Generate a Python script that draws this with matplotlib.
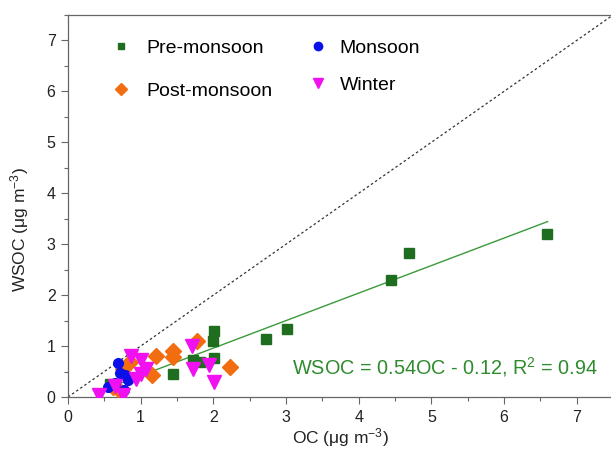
import matplotlib
matplotlib.use("Agg")
import matplotlib.pyplot as plt
from matplotlib.lines import Line2D
import numpy as np

plt.rcParams['font.family'] = ['Liberation Sans', 'DejaVu Sans']
plt.rcParams['mathtext.fontset'] = 'custom'
plt.rcParams['mathtext.rm'] = 'Liberation Sans'
plt.rcParams['mathtext.it'] = 'Liberation Sans:italic'

# Data
pre_oc = [6.59, 4.69, 4.44, 3.02, 2.72, 2.01, 1.99, 2.01, 1.72, 1.81, 1.44, 0.58]
pre_wsoc = [3.20, 2.82, 2.29, 1.33, 1.14, 1.30, 1.10, 0.77, 0.73, 0.69, 0.45, 0.25]

mon_oc = [0.69, 0.72, 0.78, 0.83, 0.55, 0.65, 0.77, 0.85]
mon_wsoc = [0.67, 0.47, 0.43, 0.33, 0.19, 0.27, 0.14, 0.40]

post_oc = [0.76, 0.85, 0.69, 1.15, 1.21, 1.44, 1.44, 1.78, 2.23, 0.62]
post_wsoc = [0.54, 0.68, 0.15, 0.43, 0.81, 0.90, 0.79, 1.10, 0.58, 0.20]

win_oc = [0.42, 0.76, 0.65, 0.87, 1.00, 1.07, 0.93, 1.00, 1.70, 1.72, 1.94, 2.01]
win_wsoc = [0.04, 0.03, 0.22, 0.80, 0.73, 0.55, 0.35, 0.45, 1.00, 0.55, 0.62, 0.30]

slope, intercept = 0.54, -0.12
fit_range = [0.55, 6.6]

fig = plt.figure(figsize=(6.11, 4.65), dpi=100)
ax = fig.add_axes([68/611, 68/465, 545/611, 382/465])

c_pre = '#1f6e1f'
c_mon = '#0a10e8'
c_post = '#f26c10'
c_win = '#f010f0'

# 1:1 line
ax.plot([0, 7.5], [0, 7.5], ls=(0, (2, 2)), color='#333333', lw=0.9, zorder=1)

# fit line
xf = np.array(fit_range)
ax.plot(xf, slope * xf + intercept, color='#3a9a3a', lw=1.0, zorder=2)

ax.plot(pre_oc, pre_wsoc, ls='none', marker='s', ms=7, color=c_pre, zorder=3)
ax.plot(post_oc, post_wsoc, ls='none', marker='D', ms=8.5, color=c_post, zorder=3)
ax.plot(mon_oc, mon_wsoc, ls='none', marker='o', ms=7, color=c_mon, zorder=3)
ax.plot(win_oc, win_wsoc, ls='none', marker='v', ms=9.5, color=c_win, zorder=4)

ax.set_xlim(0, 7.5)
ax.set_ylim(0, 7.5)
ax.set_xticks(range(0, 8))
ax.set_yticks(range(0, 8))
ax.set_xticks(np.arange(0.5, 7.6, 1.0), minor=True)
ax.set_yticks(np.arange(0.5, 7.6, 1.0), minor=True)
ax.tick_params(which='major', direction='out', length=5, width=0.8, color='#666666',
               labelsize=11.5, labelcolor='#222222', pad=4)
ax.tick_params(which='minor', direction='out', length=3, width=0.8, color='#666666')
for s in ax.spines.values():
    s.set_color('#666666')
    s.set_linewidth(0.9)

ax.set_xlabel(r'OC ($\mathrm{\mu}$g m$^{-3}$)', fontsize=12.5, color='#222222', labelpad=1)
ax.set_ylabel(r'WSOC ($\mathrm{\mu}$g m$^{-3}$)', fontsize=12.5, color='#222222')
ax.yaxis.set_label_coords(-0.068, 0.437)

ax.text(3.08, 0.58, r'WSOC = 0.54OC - 0.12, R$^2$ = 0.94', color='#2e8b2e',
        fontsize=14.3, ha='left', va='center')

# Legend: two columns built as separate legends
h_pre = Line2D([], [], ls='none', marker='s', ms=5, color=c_pre)
h_post = Line2D([], [], ls='none', marker='D', ms=6.5, color=c_post)
h_mon = Line2D([], [], ls='none', marker='o', ms=6, color=c_mon)
h_win = Line2D([], [], ls='none', marker='v', ms=7.5, color=c_win)

leg1 = ax.legend([h_pre, h_post], ['Pre-monsoon', 'Post-monsoon'], loc='upper left',
                 bbox_to_anchor=(0.068, 0.957), frameon=False, fontsize=14,
                 handlelength=0.8, handletextpad=0.92, labelspacing=1.3, borderaxespad=0)
ax.add_artist(leg1)
ax.legend([h_mon, h_win], ['Monsoon', 'Winter'], loc='upper left',
          bbox_to_anchor=(0.431, 0.957), frameon=False, fontsize=14,
          handlelength=0.8, handletextpad=0.68, labelspacing=1.0, borderaxespad=0)

fig.savefig('out.png', dpi=100)
